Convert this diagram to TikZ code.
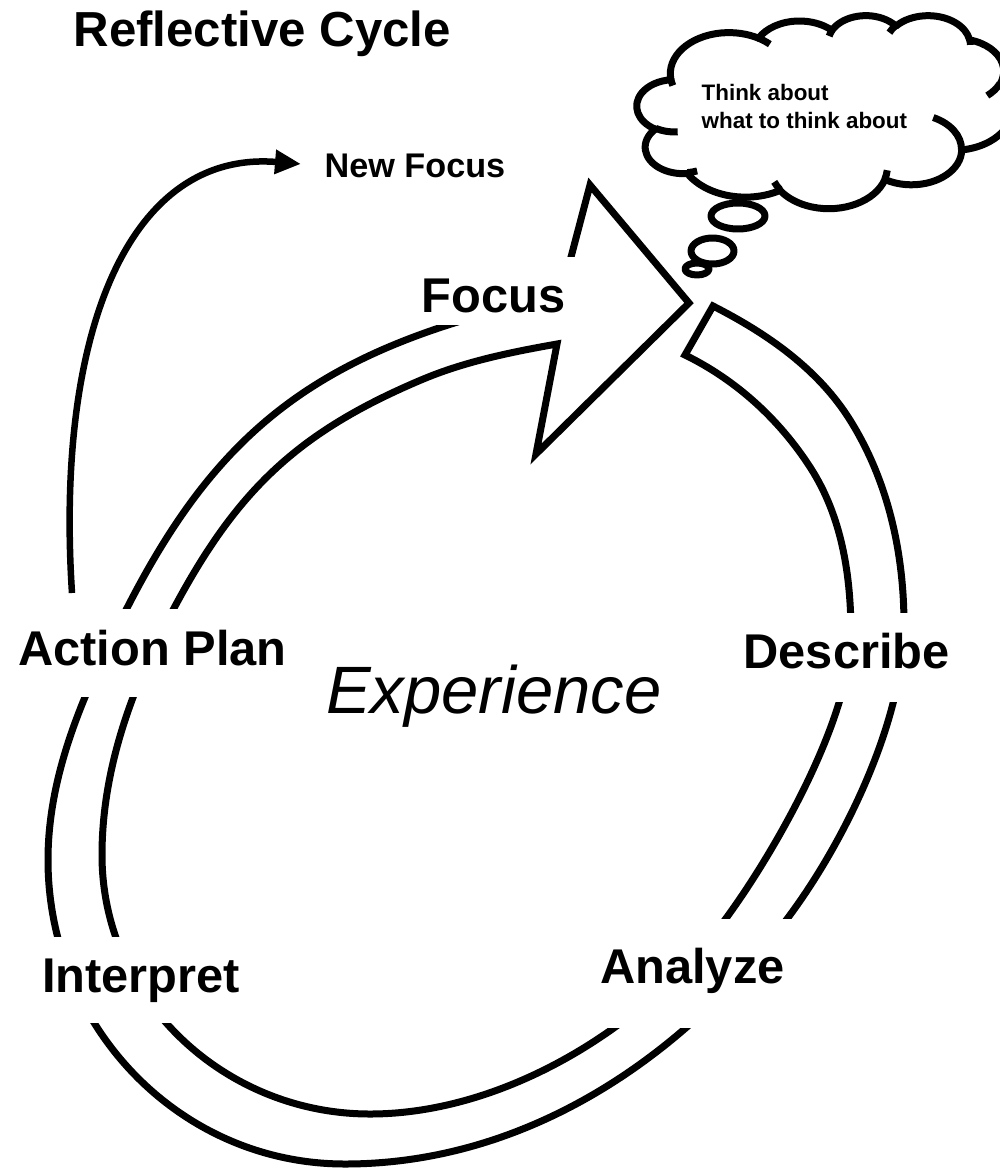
\documentclass[tikz,border=0pt]{standalone}
\usepackage{fontspec}
\setmainfont{Liberation Sans}
\usetikzlibrary{arrows.meta}
% DrawingML-style arcTo: wR, hR, start angle, sweep angle (visual angles)
\newcommand\cldarc[4]{arc[x radius=#1, y radius=#2, start angle={atan2((#1)*sin(#3),(#2)*cos(#3))}, delta angle={mod(mod(atan2((#1)*sin((#3)+(#4)),(#2)*cos((#3)+(#4)))-atan2((#1)*sin(#3),(#2)*cos(#3)),360)+360,360)}]}
\begin{document}
\begin{tikzpicture}[x=1pt,y=-1pt,
  ringline/.style={line width=7pt, line join=miter, miter limit=10},
  cloudline/.style={line width=7pt, line join=round},
  lbl/.style={font=\fontsize{48.8}{58}\selectfont\bfseries, fill=white, inner xsep=10pt, inner ysep=0pt, anchor=base west},
  plain/.style={inner sep=0pt, anchor=base west}]
\useasboundingbox (0,0) rectangle (1000,1172);
\clip (0,0) rectangle (1000,1172);

% ring with arrow head
\draw[ringline, fill=white]
  (713,306) .. controls (766.9,333.5) and (817.9,368.7) .. (850,420)
  .. controls (888.2,481.1) and (904,553) .. (904,625)
  .. controls (904,720) and (844.2,843.1) .. (787,919)
  .. controls (679.9,1061.2) and (523,1164) .. (345,1164)
  .. controls (179,1164) and (48,1026) .. (48,860)
  .. controls (48,771.4) and (85.8,688.9) .. (126,610)
  .. controls (203.2,458.5) and (286.3,377.2) .. (448,325)
  .. controls (484.1,313.3) and (524.1,304.2) .. (561,295)
  -- (590,185) -- (689,303) -- (536,454) -- (557,344)
  .. controls (510.7,352.2) and (464.3,361.6) .. (421,380)
  .. controls (296.7,432.7) and (236.4,490.8) .. (173,610)
  .. controls (132.4,686.4) and (102,768.5) .. (102,855)
  .. controls (102,1000) and (225,1114) .. (370,1114)
  .. controls (505,1114) and (647.6,1026.2) .. (727,917)
  .. controls (779.9,844.2) and (851,715) .. (851,635)
  .. controls (851,576) and (842.1,516.5) .. (810,467)
  .. controls (779,419.2) and (736.2,380) .. (685,355)
  -- cycle;

% new focus arrow
\coordinate (nfs) at (72,593);
\coordinate (nfe) at (301,164);
\draw[line width=6.5pt, -{Triangle[length=26pt, width=23pt]}] (nfs) .. controls (55,330) and (130,150) .. (nfe);

% thought cloud
\begin{scope}[shift={(637,15)}, x={(0.86806pt,0pt)}, y={(0pt,-0.44676pt)}]
\draw[cloudline, fill=white] (39.00,143.70)
 \cldarc{67.53}{91.90}{-190.4875}{123.7805}
 \cldarc{53.33}{72.67}{-144.1024}{89.9452}
 \cldarc{43.65}{59.45}{-145.8079}{99.7230}
 \cldarc{48.57}{65.95}{-130.9861}{117.2417}
 \cldarc{53.33}{72.73}{-78.7089}{109.0269}
 \cldarc{67.75}{92.20}{-46.2673}{130.2690}
 \cldarc{57.85}{78.67}{0.6250}{114.0333}
 \cldarc{67.52}{92.15}{22.4516}{115.1726}
 \cldarc{77.20}{105.43}{66.2426}{75.7110}
 \cldarc{43.60}{59.18}{-274.9421}{146.7356}
 \cldarc{43.45}{59.45}{-246.8285}{152.5225}
 -- cycle;
\draw[cloudline]
 (46.93,261.77) \cldarc{43.45}{59.45}{86.7420}{26.4295}
 (69.28,348.99) \cldarc{43.60}{59.18}{73.6105}{11.4475}
 (164.78,390.90) \cldarc{67.52}{92.15}{137.6242}{14.0811}
 (288.27,347.51) \cldarc{67.52}{92.15}{6.4533}{15.9984}
 (341.29,229.54) \cldarc{57.85}{78.67}{-70.2924}{70.9174}
 (417.98,153.54) \cldarc{53.33}{72.73}{30.3180}{27.7515}
 (383.24,54.26) \cldarc{48.57}{65.95}{-13.7443}{14.8589}
 (290.78,39.52) \cldarc{48.57}{65.95}{-149.1815}{18.1954}
 (221.41,47.20) \cldarc{43.65}{59.45}{-163.4943}{17.6864}
 (140.00,51.92) \cldarc{67.53}{91.90}{-66.7070}{12.3194}
 (41.27,157.89) \cldarc{67.53}{91.90}{157.6544}{11.8582};
\end{scope}
\draw[cloudline] (738,216) ellipse [x radius=27, y radius=13];
\draw[cloudline] (712.5,251) ellipse [x radius=21.5, y radius=13];
\draw[cloudline] (697,269) ellipse [x radius=12, y radius=6];

% texts
\node[plain, font=\fontsize{49.2}{58}\selectfont\bfseries] (title) at (73.4,47) {Reflective Cycle};
\node[plain, font=\fontsize{34.2}{40}\selectfont\bfseries] (newfocus) at (324.5,177) {New Focus};
\node[plain, font=\fontsize{22.4}{28}\selectfont\bfseries] (thought) at (701.5,100) {\begin{tabular}[t]{@{}l@{}}Think about\\what to think about\end{tabular}};
\node[plain, font=\fontsize{67}{80}\selectfont\itshape] (experience) at (326,713) {Experience};

\node[lbl, inner xsep=14pt, text height=55pt, text depth=13pt] (focus) at (407.4,312) {Focus};
\node[lbl, text height=56pt, text depth=32pt] (action) at (8,665) {Action Plan};
\node[lbl, text height=55pt, text depth=34pt] (describe) at (733.4,668) {Describe};
\node[lbl, inner xsep=14pt, text height=64pt, text depth=45pt] (analyze) at (586,983) {Analyze};
\node[lbl, text height=55pt, text depth=31pt] (interpret) at (31.9,992) {Interpret};
\end{tikzpicture}
\end{document}
